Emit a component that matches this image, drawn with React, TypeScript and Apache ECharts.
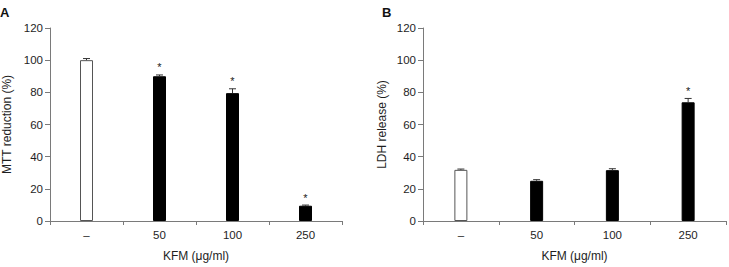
import React, { useEffect, useRef } from "react";
import * as echarts from "echarts";

const categories = ["–", "50", "100", "250"];
const yTicks = [0, 20, 40, 60, 80, 100, 120];

const mttMeans = [100, 90, 79.5, 9.5];
const mttErrors = [1, 0.8, 2.7, 0.4];
const mttSignificant = [false, true, true, true];

const ldhMeans = [31.8, 25, 31.6, 73.8];
const ldhErrors = [0.5, 0.7, 0.9, 2.4];
const ldhSignificant = [false, false, false, true];

const FONT = "'Liberation Sans', Arial, Helvetica, sans-serif";
const AXIS_COLOR = "#7a7a7a";
const TEXT_COLOR = "#1e1e1e";

function barData(means: number[]) {
  return means.map((v, i) => ({
    value: v,
    itemStyle:
      i === 0
        ? { color: "#ffffff", borderColor: "#555555", borderWidth: 1 }
        : { color: "#000000", borderColor: "#000000", borderWidth: 1 },
  }));
}

function errData(means: number[], errs: number[], sig: boolean[]) {
  return means.map((m, i) => [i, m, errs[i], sig[i] ? 1 : 0]);
}

function renderErr(params: any, api: any) {
  const idx = api.value(0);
  const mean = api.value(1);
  const err = api.value(2);
  const star = api.value(3);
  const base = api.coord([idx, mean]);
  const top = api.coord([idx, mean + err]);
  const cap = 3.5;
  const children: any[] = [
    {
      type: "line",
      shape: { x1: base[0], y1: base[1], x2: top[0], y2: top[1] },
      style: { stroke: "#333333", lineWidth: 1 },
    },
    {
      type: "line",
      shape: { x1: top[0] - cap, y1: top[1], x2: top[0] + cap, y2: top[1] },
      style: { stroke: "#333333", lineWidth: 1 },
    },
  ];
  if (star) {
    children.push({
      type: "text",
      style: {
        text: "*",
        x: top[0],
        y: top[1] - 2,
        align: "center",
        verticalAlign: "bottom",
        fill: "#222222",
        font: `11px ${FONT}`,
      },
    });
  }
  return { type: "group", children };
}

function xAxisCfg(gridIndex: number) {
  return {
    type: "category",
    gridIndex,
    data: categories,
    name: "KFM (μg/ml)",
    nameLocation: "middle",
    nameGap: 29,
    nameTextStyle: { fontFamily: FONT, fontSize: 12, color: TEXT_COLOR },
    axisLine: { lineStyle: { color: AXIS_COLOR, width: 1 } },
    axisTick: { show: true, length: 4, alignWithLabel: false, lineStyle: { color: AXIS_COLOR } },
    axisLabel: { fontFamily: FONT, fontSize: 11.5, color: TEXT_COLOR, margin: 8 },
  };
}

function yAxisCfg(gridIndex: number, name: string, nameGap: number) {
  return {
    type: "value",
    gridIndex,
    min: 0,
    max: 120,
    interval: 20,
    name,
    nameLocation: "middle",
    nameGap,
    nameTextStyle: { fontFamily: FONT, fontSize: 12, color: TEXT_COLOR },
    axisLine: { show: true, lineStyle: { color: AXIS_COLOR, width: 1 } },
    axisTick: { show: true, length: 5, lineStyle: { color: AXIS_COLOR } },
    splitLine: { show: false },
    axisLabel: {
      fontFamily: FONT,
      fontSize: 11.5,
      color: TEXT_COLOR,
      margin: 7,
      formatter: (v: number) => (yTicks.includes(v) ? String(v) : ""),
    },
  };
}

export default function App() {
  const ref = useRef<HTMLDivElement>(null);
  useEffect(() => {
    if (!ref.current) return;
    const chart = echarts.init(ref.current, null, { renderer: "svg" });
    chart.setOption({
      animation: false,
      backgroundColor: "#ffffff",
      textStyle: { fontFamily: FONT },
      grid: [
        { left: 42, right: 387, top: 28, bottom: 41, containLabel: false },
        { left: 423, right: 3, top: 28, bottom: 41, containLabel: false },
      ],
      xAxis: [xAxisCfg(0), xAxisCfg(1)],
      yAxis: [
        yAxisCfg(0, "MTT reduction (%)", 37),
        yAxisCfg(1, "LDH release (%)", 35),
      ],
      graphic: [
        {
          type: "text",
          left: 0,
          top: 6,
          style: { text: "A", font: `bold 13px ${FONT}`, fill: "#111111" },
        },
        {
          type: "text",
          left: 382,
          top: 6,
          style: { text: "B", font: `bold 13px ${FONT}`, fill: "#111111" },
        },
      ],
      series: [
        {
          type: "bar",
          xAxisIndex: 0,
          yAxisIndex: 0,
          barWidth: 13,
          data: barData(mttMeans),
        },
        {
          type: "custom",
          xAxisIndex: 0,
          yAxisIndex: 0,
          renderItem: renderErr,
          data: errData(mttMeans, mttErrors, mttSignificant),
          z: 5,
        },
        {
          type: "bar",
          xAxisIndex: 1,
          yAxisIndex: 1,
          barWidth: 13,
          data: barData(ldhMeans),
        },
        {
          type: "custom",
          xAxisIndex: 1,
          yAxisIndex: 1,
          renderItem: renderErr,
          data: errData(ldhMeans, ldhErrors, ldhSignificant),
          z: 5,
        },
      ],
    });
    return () => chart.dispose();
  }, []);
  return (
    <div
      ref={ref}
      style={{ position: "fixed", left: 0, top: 0, width: 729, height: 267, background: "#fff" }}
    />
  );
}
